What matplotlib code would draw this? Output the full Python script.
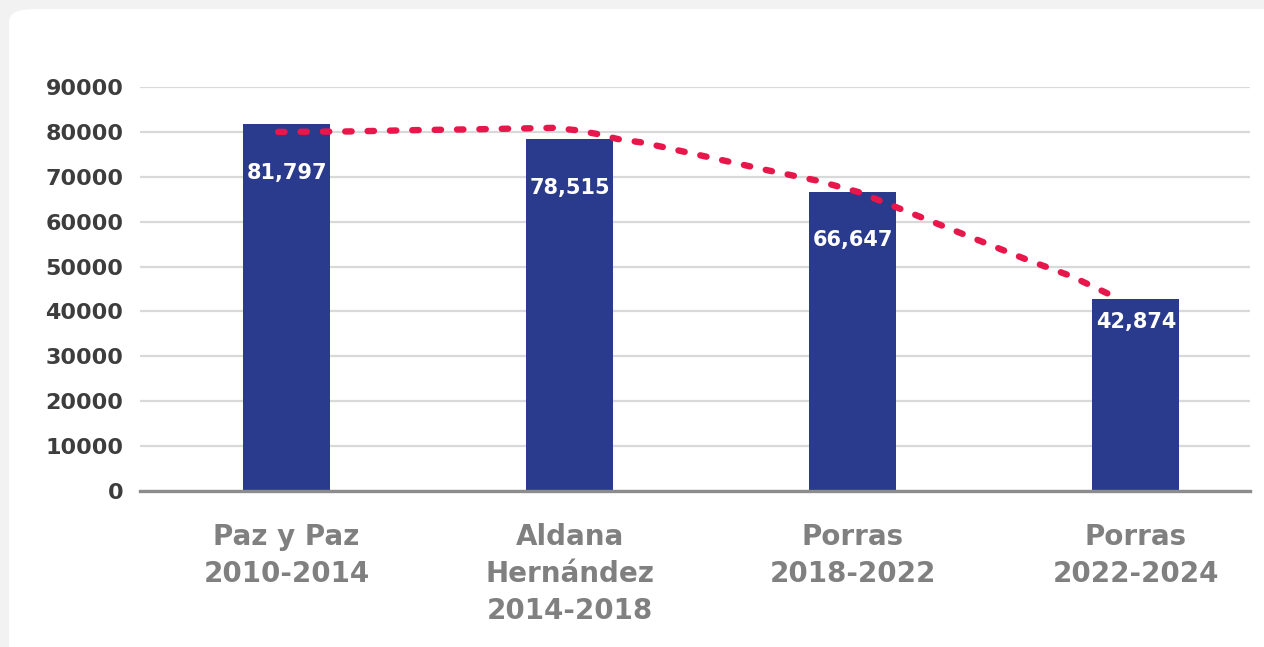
import matplotlib
matplotlib.use("Agg")
import matplotlib.pyplot as plt
from matplotlib.patches import FancyBboxPatch
from matplotlib.transforms import offset_copy

# ---- data -----------------------------------------------------------------
CATEGORIES = [
    "Paz y Paz\n2010-2014",
    "Aldana\nHernández\n2014-2018",
    "Porras\n2018-2022",
    "Porras\n2022-2024",
]
VALUES = [81797, 78515, 66647, 42874]
VALUE_LABELS = ["81,797", "78,515", "66,647", "42,874"]
Y_TICKS = [0, 10000, 20000, 30000, 40000, 50000, 60000, 70000, 80000, 90000]

# dotted trend line (x in category units)
TREND_X = [-0.03, 0.22, 0.46, 0.69, 0.94, 1.02, 1.10, 1.17, 1.26, 1.41,
           1.56, 1.71, 1.87, 2.02, 2.17, 2.32, 2.47, 2.62, 2.77, 2.90]
TREND_Y = [80000, 80100, 80400, 80600, 80900, 80400, 79500, 78400, 77600, 75500,
           73400, 71300, 69200, 66600, 62800, 59000, 55200, 51400, 47900, 44000]

# ---- style ----------------------------------------------------------------
BAR_COLOR = "#2a3a8c"
LINE_COLOR = "#e8174b"
LABEL_DROP = [49, 49, 48, 23]   # px below bar top for value labels

W, H, DPI = 1264, 647, 100

fig = plt.figure(figsize=(W / DPI, H / DPI), dpi=DPI, facecolor="#f2f2f2")

# white card behind everything
card = FancyBboxPatch((9 / W, -0.1), 1.2, (H - 9) / H + 0.1,
                      boxstyle="round,pad=0,rounding_size=0.02",
                      transform=fig.transFigure, facecolor="white",
                      edgecolor="none", zorder=-10)
fig.patches.append(card)

ax = fig.add_axes([140 / W, (H - 491) / H, 1110 / W, (491 - 87) / H])
ax.set_zorder(1)
ax.set_facecolor("none")

x = list(range(len(VALUES)))
ax.bar(x, VALUES, width=0.307, color=BAR_COLOR, zorder=3)

ax.plot(TREND_X, TREND_Y, color=LINE_COLOR, linewidth=4.6,
        linestyle=(0, (1, 2.5)), dash_capstyle="round",
        solid_capstyle="round", zorder=4)

for i, (v, lab) in enumerate(zip(VALUES, VALUE_LABELS)):
    tr = offset_copy(ax.transData, fig=fig, x=0, y=-LABEL_DROP[i] * 72 / DPI,
                     units="points")
    ax.text(i, v, lab, transform=tr, ha="center", va="center",
            color="white", fontsize=15, fontweight="bold", zorder=5)

ax.set_xlim(-0.518, 3.403)
ax.set_ylim(0, 90000)
ax.set_yticks(Y_TICKS)
ax.set_yticklabels([str(t) for t in Y_TICKS])
ax.set_xticks(x)
ax.set_xticklabels(CATEGORIES, linespacing=1.4)

ax.yaxis.grid(True, color="#d9d9d9", linewidth=1.6, zorder=0)
ax.set_axisbelow(True)

for side in ("top", "right", "left"):
    ax.spines[side].set_visible(False)
ax.spines["bottom"].set_color("#8c8c8c")
ax.spines["bottom"].set_linewidth(2.4)
ax.spines["bottom"].set_zorder(6)

ax.tick_params(axis="y", length=0, pad=12, labelsize=16, labelcolor="#3d3d3d")
ax.tick_params(axis="x", length=0, pad=23, labelsize=20, labelcolor="#808080")
for t in ax.get_yticklabels():
    t.set_fontweight("bold")
for t in ax.get_xticklabels():
    t.set_fontweight("bold")

fig.savefig("out.png", dpi=DPI, facecolor=fig.get_facecolor())
